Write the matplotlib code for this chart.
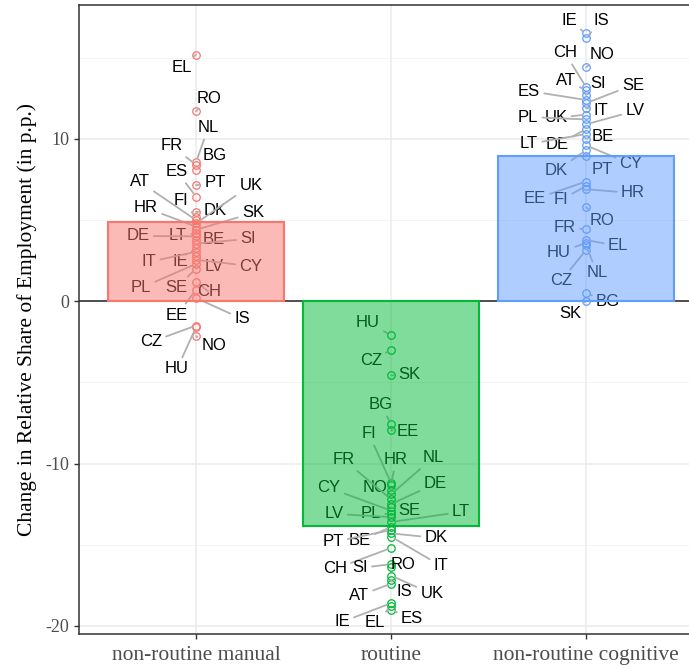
import matplotlib
matplotlib.use("Agg")
import matplotlib.pyplot as plt
import numpy as np

categories = ["non-routine manual", "routine", "non-routine cognitive"]
bar_values = [4.86, -13.87, 8.97]
colors = ["#F8766D", "#00BA38", "#619CFF"]

manual_countries = ["EL", "RO", "NL", "FR", "BG", "PT", "ES", "DK", "FI", "AT", "UK", "HR", "SK", "LT",
                    "DE", "BE", "SI", "IE", "IT", "LV", "CY", "PL", "SE", "CH", "EE", "IS", "CZ", "HU", "NO"]
manual_values = [15.2, 11.7, 8.55, 8.4, 8.1, 7.15, 6.45, 5.5, 5.2, 5.0, 4.8, 4.6, 4.4, 4.2,
                 4.0, 3.8, 3.55, 3.3, 3.05, 2.8, 2.55, 2.3, 2.0, 1.2, 0.7, 0.2, -1.5, -1.6, -2.15]

routine_countries = ["HU", "CZ", "SK", "BG", "EE", "FI", "HR", "NO", "NL", "FR", "DE", "SE", "CY", "PL",
                     "LV", "LT", "BE", "PT", "DK", "IT", "CH", "SI", "RO", "UK", "IS", "AT", "IE", "EL", "ES"]
routine_values = [-2.1, -3.0, -4.57, -7.55, -7.95, -11.2, -11.3, -11.6, -11.9, -12.2, -12.5, -12.7, -12.9, -13.1,
                  -13.3, -13.6, -13.9, -14.1, -14.3, -14.5, -15.2, -16.2, -16.4, -16.9, -17.2, -17.4, -18.6, -18.8, -19.0]

cognitive_countries = ["IE", "IS", "NO", "CH", "AT", "SI", "ES", "SE", "IT", "UK", "PL", "LV", "DE", "LT",
                       "BE", "CY", "DK", "PT", "EE", "FI", "HR", "RO", "FR", "EL", "HU", "NL", "CZ", "BG", "SK"]
cognitive_values = [16.5, 16.2, 14.4, 13.2, 13.0, 12.7, 12.4, 12.2, 11.9, 11.5, 11.2, 10.9, 10.6, 10.3,
                    10.0, 9.6, 9.3, 8.95, 7.37, 7.1, 6.9, 5.8, 4.44, 3.77, 3.6, 3.46, 3.15, 0.51, 0.02]

y_ticks = [-20, -10, 0, 10]

# label layout offsets (dx in category units, dy in value units), like repelled labels
manual_offsets = {
    "EL": (-0.072, -0.83), "RO": (0.067, 0.82), "NL": (0.062, 2.13), "FR": (-0.123, 1.17),
    "BG": (0.097, 0.85), "PT": (0.097, 0.14), "ES": (-0.097, 1.52), "DK": (0.097, 0.06),
    "FI": (-0.077, 0.98), "AT": (-0.287, 2.35), "UK": (0.282, 2.36), "HR": (-0.256, 1.15),
    "SK": (0.292, 1.04), "LT": (-0.092, -0.18), "DE": (-0.297, 0.02), "BE": (0.092, -0.02),
    "SI": (0.267, 0.29), "IE": (-0.082, -0.88), "IT": (-0.241, -0.63), "LV": (0.092, -0.63),
    "CY": (0.282, -0.38), "PL": (-0.282, -1.48), "SE": (-0.103, -1.18), "CH": (0.067, -0.63),
    "EE": (-0.097, -1.55), "IS": (0.236, -1.29), "CZ": (-0.231, -1.01), "HU": (-0.097, -2.57),
    "NO": (0.092, -0.6),
}
routine_offsets = {
    "HU": (-0.118, 0.81), "CZ": (-0.103, -0.68), "SK": (0.092, 0.03), "BG": (-0.051, 1.16),
    "EE": (0.087, -0.10), "FI": (-0.113, 3.03), "HR": (0.026, 1.53), "NO": (-0.082, 0.1),
    "NL": (0.215, 2.25), "FR": (-0.241, 2.43), "DE": (0.226, 1.25), "SE": (0.092, -0.2),
    "CY": (-0.318, 1.4), "PL": (-0.103, 0.0), "LV": (-0.292, 0.2), "LT": (0.359, 0.62),
    "BE": (-0.159, -0.87), "PT": (-0.297, -0.73), "DK": (0.231, -0.28), "IT": (0.256, -1.8),
    "CH": (-0.287, -1.29), "SI": (-0.159, -0.23), "RO": (0.062, 0.16), "UK": (0.21, -1.13),
    "IS": (0.067, -0.7), "AT": (-0.164, -0.75), "IE": (-0.251, -1.16), "EL": (-0.082, -1.02),
    "ES": (0.108, -0.57),
}
cognitive_offsets = {
    "IE": (-0.087, 0.77), "IS": (0.077, 1.07), "NO": (0.082, 0.83), "CH": (-0.108, 2.1),
    "AT": (-0.103, 0.62), "SI": (0.062, 0.74), "ES": (-0.292, 0.55), "SE": (0.241, 1.12),
    "IT": (0.077, -0.12), "UK": (-0.154, -0.21), "PL": (-0.297, 0.15), "LV": (0.251, 0.82),
    "DE": (-0.149, -0.97), "LT": (-0.292, -0.61), "BE": (0.087, 0.12), "CY": (0.231, -1.14),
    "DK": (-0.154, -1.27), "PT": (0.082, -0.86), "EE": (-0.262, -1.07), "FI": (-0.128, -0.86),
    "HR": (0.241, -0.23), "RO": (0.082, -0.8), "FR": (-0.108, 0.08), "EL": (0.164, -0.36),
    "HU": (-0.138, -0.62), "NL": (0.056, -1.72), "CZ": (-0.128, -1.9), "BG": (0.113, -0.55),
    "SK": (-0.082, -0.8),
}

groups = [
    (manual_countries, manual_values, manual_offsets),
    (routine_countries, routine_values, routine_offsets),
    (cognitive_countries, cognitive_values, cognitive_offsets),
]

serif = ["Liberation Serif", "DejaVu Serif"]
sans = ["Liberation Sans", "DejaVu Sans"]

fig = plt.figure(figsize=(6.89, 6.68), dpi=100)
W, H = 689, 668
ax = fig.add_axes([79 / W, 34 / H, 624 / W, 629 / H])

xpos = np.arange(1, len(categories) + 1)
ax.set_xlim(0.4, 3.6)
ax.set_ylim(-20.5, 18.25)

# grid
for y in [-20, -10, 0, 10]:
    ax.axhline(y, color="#EBEBEB", lw=1.1, zorder=0)
for y in [-15, -5, 5, 15]:
    ax.axhline(y, color="#F2F2F2", lw=0.6, zorder=0)
for x in xpos:
    ax.axvline(x, color="#EBEBEB", lw=1.1, zorder=0)

ax.axhline(0, color="#333333", lw=1.2, zorder=1)

for gi, (countries, values, offsets) in enumerate(groups):
    x0 = xpos[gi]
    ax.plot([x0] * len(values), values, linestyle="none", marker="o", markersize=5.4,
            markerfacecolor="none", markeredgecolor=colors[gi], markeredgewidth=0.9, zorder=3)
    for c, v in zip(countries, values):
        dx, dy = offsets[c]
        dist_px = np.hypot(dx * 195, dy * 16.23)
        arrow = None
        if dist_px > 14:
            arrow = dict(arrowstyle="-", color="#B0B0B0", lw=1.3, shrinkA=1, shrinkB=3)
        ax.annotate(c, xy=(x0, v), xytext=(x0 + dx, v + dy), textcoords="data",
                    ha="center", va="center", fontsize=12, family=sans, color="black",
                    arrowprops=arrow, zorder=4)

# bars on top with transparency
ax.bar(xpos, bar_values, width=0.9, color=colors, alpha=0.5, zorder=5, linewidth=0)
ax.bar(xpos, bar_values, width=0.9, color="none", edgecolor=colors, linewidth=1.5, zorder=6)

ax.set_xticks(xpos)
ax.set_xticklabels(categories, family=serif, fontsize=15.5, color="#4D4D4D")
ax.set_yticks(y_ticks)
ax.set_yticklabels([str(t) for t in y_ticks], family=serif, fontsize=13, color="#4D4D4D")
ax.tick_params(axis="both", length=3.5, width=1, color="#333333")
ax.tick_params(axis="x", pad=5)
ax.set_ylabel("Change in Relative Share of Employment (in p.p.)", family=serif, fontsize=15.5,
              color="black", labelpad=6)

for s in ax.spines.values():
    s.set_color("#333333")
    s.set_linewidth(1.1)

fig.savefig("out.png", dpi=100)
